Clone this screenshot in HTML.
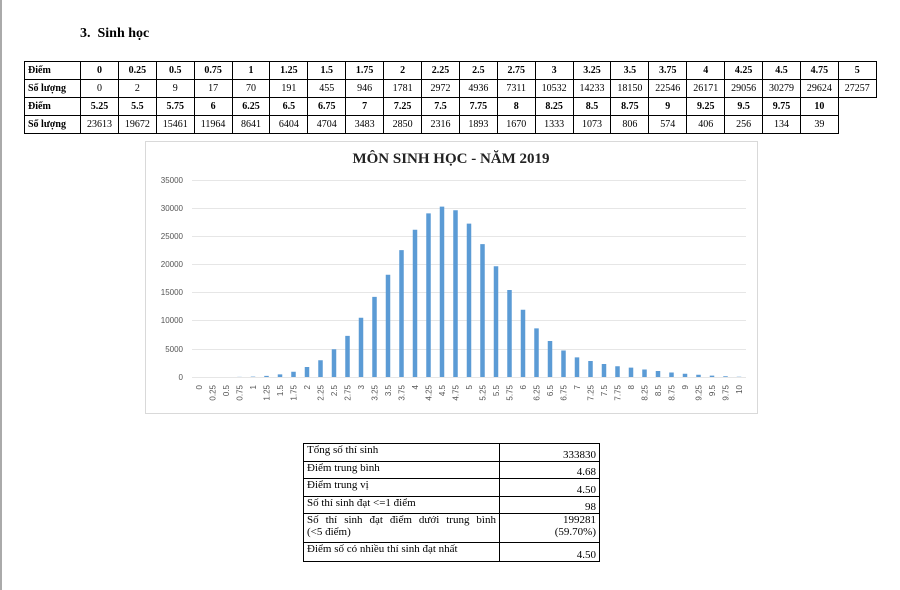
<!DOCTYPE html>
<html><head><meta charset="utf-8"><style>
body{margin:0;width:900px;height:590px;background:#fff;position:relative;overflow:hidden;font-family:"Liberation Serif",serif;}
#lb{position:absolute;left:0;top:0;width:2px;height:590px;background:#aaa;}
#h{position:absolute;left:80px;top:26px;font-size:14px;font-weight:bold;}
table{border-collapse:collapse;table-layout:fixed;position:absolute;}
#t1{left:24px;top:61px;width:852px;font-size:10px;}
#t1 td{border:1px solid #000;height:17px;padding:0;text-align:center;white-space:nowrap;overflow:hidden;}
#t1 tr.b td{font-weight:bold;}
#t1 td.f{text-align:left;padding-left:3px;font-weight:bold;}
#t2{left:303px;top:443px;width:296px;font-size:11px;}
#t2 td{border:1px solid #000;padding:0 3px;vertical-align:top;line-height:12px;}
#t2 td.r{text-align:right;}
.j{display:block;text-align:justify;text-align-last:justify;}
svg{position:absolute;left:0;top:0;}
</style></head><body>
<div id="lb"></div>
<div id="h">3.&nbsp;&nbsp;Sinh học</div>
<table id="t1">
<colgroup><col style="width:56px"><col span="21" style="width:37.9px"></colgroup>
<tr class="b"><td class="f">Điểm</td><td>0</td><td>0.25</td><td>0.5</td><td>0.75</td><td>1</td><td>1.25</td><td>1.5</td><td>1.75</td><td>2</td><td>2.25</td><td>2.5</td><td>2.75</td><td>3</td><td>3.25</td><td>3.5</td><td>3.75</td><td>4</td><td>4.25</td><td>4.5</td><td>4.75</td><td>5</td></tr>
<tr><td class="f">Số lượng</td><td>0</td><td>2</td><td>9</td><td>17</td><td>70</td><td>191</td><td>455</td><td>946</td><td>1781</td><td>2972</td><td>4936</td><td>7311</td><td>10532</td><td>14233</td><td>18150</td><td>22546</td><td>26171</td><td>29056</td><td>30279</td><td>29624</td><td>27257</td></tr>
<tr class="b"><td class="f">Điểm</td><td>5.25</td><td>5.5</td><td>5.75</td><td>6</td><td>6.25</td><td>6.5</td><td>6.75</td><td>7</td><td>7.25</td><td>7.5</td><td>7.75</td><td>8</td><td>8.25</td><td>8.5</td><td>8.75</td><td>9</td><td>9.25</td><td>9.5</td><td>9.75</td><td>10</td><td style="border:none"></td></tr>
<tr><td class="f">Số lượng</td><td>23613</td><td>19672</td><td>15461</td><td>11964</td><td>8641</td><td>6404</td><td>4704</td><td>3483</td><td>2850</td><td>2316</td><td>1893</td><td>1670</td><td>1333</td><td>1073</td><td>806</td><td>574</td><td>406</td><td>256</td><td>134</td><td>39</td><td style="border:none"></td></tr>
</table>
<svg width="900" height="590" xmlns="http://www.w3.org/2000/svg">
<rect x="145.5" y="141.5" width="612" height="272" fill="#fff" stroke="#d9d9d9"/>
<text x="451" y="163" text-anchor="middle" font-family="Liberation Serif,serif" font-size="15" font-weight="bold" fill="#222">MÔN SINH HỌC - NĂM 2019</text>
<g stroke="#e6e6e6" stroke-width="1">
<line x1="192" x2="746" y1="180.5" y2="180.5"/><line x1="192" x2="746" y1="208.5" y2="208.5"/><line x1="192" x2="746" y1="236.5" y2="236.5"/><line x1="192" x2="746" y1="264.5" y2="264.5"/><line x1="192" x2="746" y1="292.5" y2="292.5"/><line x1="192" x2="746" y1="320.5" y2="320.5"/><line x1="192" x2="746" y1="349.5" y2="349.5"/><line x1="192" x2="746" y1="377.5" y2="377.5"/>
</g>
<g font-family="Liberation Sans,sans-serif" font-size="8" fill="#555" text-anchor="end">
<text x="183" y="183">35000</text><text x="183" y="211">30000</text><text x="183" y="239">25000</text><text x="183" y="267">20000</text><text x="183" y="295">15000</text><text x="183" y="323">10000</text><text x="183" y="352">5000</text><text x="183" y="380">0</text>
</g>
<path stroke="#5b9bd5" stroke-width="4.5" fill="none" d="M199 377V377M212.5 377V376.99M226 377V376.95M239.5 377V376.9M253 377V376.6M266.5 377V375.9M280 377V374.4M293.5 377V371.7M307 377V367M320.5 377V360.3M334 377V349.2M347.5 377V335.9M361 377V317.7M374.5 377V296.9M388 377V274.8M401.5 377V250.1M415 377V229.7M428.5 377V213.4M442 377V206.6M455.5 377V210.3M469 377V223.6M482.5 377V244.1M496 377V266.3M509.5 377V290M523 377V309.7M536.5 377V328.4M550 377V341M563.5 377V350.5M577 377V357.4M590.5 377V361M604 377V364M617.5 377V366.3M631 377V367.6M644.5 377V369.5M658 377V371M671.5 377V372.5M685 377V373.8M698.5 377V374.7M712 377V375.6M725.5 377V376.3M739 377V376.8"/>
<g font-family="Liberation Sans,sans-serif" font-size="8" fill="#555" text-anchor="end">
<text transform="translate(202,385) rotate(-90)">0</text><text transform="translate(215.5,385) rotate(-90)">0.25</text><text transform="translate(229,385) rotate(-90)">0.5</text><text transform="translate(242.5,385) rotate(-90)">0.75</text><text transform="translate(256,385) rotate(-90)">1</text><text transform="translate(269.5,385) rotate(-90)">1.25</text><text transform="translate(283,385) rotate(-90)">1.5</text><text transform="translate(296.5,385) rotate(-90)">1.75</text><text transform="translate(310,385) rotate(-90)">2</text><text transform="translate(323.5,385) rotate(-90)">2.25</text><text transform="translate(337,385) rotate(-90)">2.5</text><text transform="translate(350.5,385) rotate(-90)">2.75</text><text transform="translate(364,385) rotate(-90)">3</text><text transform="translate(377.5,385) rotate(-90)">3.25</text><text transform="translate(391,385) rotate(-90)">3.5</text><text transform="translate(404.5,385) rotate(-90)">3.75</text><text transform="translate(418,385) rotate(-90)">4</text><text transform="translate(431.5,385) rotate(-90)">4.25</text><text transform="translate(445,385) rotate(-90)">4.5</text><text transform="translate(458.5,385) rotate(-90)">4.75</text><text transform="translate(472,385) rotate(-90)">5</text><text transform="translate(485.5,385) rotate(-90)">5.25</text><text transform="translate(499,385) rotate(-90)">5.5</text><text transform="translate(512.5,385) rotate(-90)">5.75</text><text transform="translate(526,385) rotate(-90)">6</text><text transform="translate(539.5,385) rotate(-90)">6.25</text><text transform="translate(553,385) rotate(-90)">6.5</text><text transform="translate(566.5,385) rotate(-90)">6.75</text><text transform="translate(580,385) rotate(-90)">7</text><text transform="translate(593.5,385) rotate(-90)">7.25</text><text transform="translate(607,385) rotate(-90)">7.5</text><text transform="translate(620.5,385) rotate(-90)">7.75</text><text transform="translate(634,385) rotate(-90)">8</text><text transform="translate(647.5,385) rotate(-90)">8.25</text><text transform="translate(661,385) rotate(-90)">8.5</text><text transform="translate(674.5,385) rotate(-90)">8.75</text><text transform="translate(688,385) rotate(-90)">9</text><text transform="translate(701.5,385) rotate(-90)">9.25</text><text transform="translate(715,385) rotate(-90)">9.5</text><text transform="translate(728.5,385) rotate(-90)">9.75</text><text transform="translate(742,385) rotate(-90)">10</text>
</g>
</svg>
<table id="t2">
<colgroup><col style="width:196px"><col style="width:100px"></colgroup>
<tr><td style="height:17px">Tổng số thí sinh</td><td class="r" style="vertical-align:bottom">333830</td></tr>
<tr><td style="height:16px">Điểm trung bình</td><td class="r" style="vertical-align:bottom">4.68</td></tr>
<tr><td style="height:17px">Điểm trung vị</td><td class="r" style="vertical-align:bottom">4.50</td></tr>
<tr><td style="height:16px">Số thí sinh đạt &lt;=1 điểm</td><td class="r" style="vertical-align:bottom">98</td></tr>
<tr><td style="height:28px"><span class="j">Số thí sinh đạt điểm dưới trung bình</span>(&lt;5 điểm)</td><td class="r">199281<br>(59.70%)</td></tr>
<tr><td style="height:18px">Điểm số có nhiều thí sinh đạt nhất</td><td class="r" style="vertical-align:bottom">4.50</td></tr>
</table>
</body></html>
